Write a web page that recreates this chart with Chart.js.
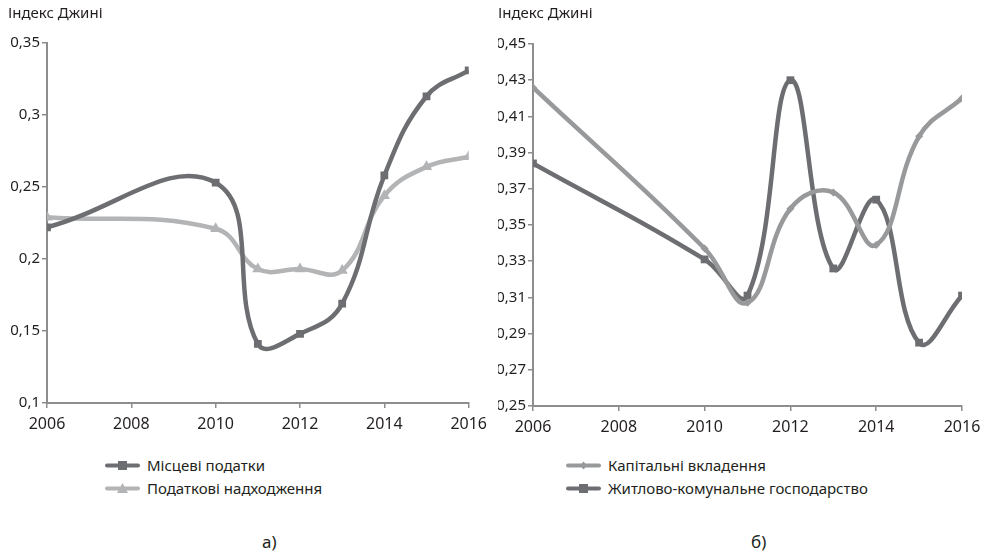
<!DOCTYPE html>
<html>
<head>
<meta charset="utf-8">
<script src="https://cdn.jsdelivr.net/npm/chart.js@4.4.1/dist/chart.umd.min.js"></script>
<style>
    body { margin: 0; background: #fff; font-family: "Noto Sans", sans-serif; color: #231f20; }
    #page { position: relative; width: 988px; height: 558px; overflow: hidden; }
    .box { position: absolute; top: 0; width: 494px; }
    .legend { position: absolute; font-size: 15px; line-height: 23px; }
    .legend div { display: flex; align-items: center; white-space: nowrap; }
    .legend svg { margin-right: 6px; }
    .caption { position: absolute; top: 530px; font-size: 17px; }
</style>
</head>
<body>
<div id="page">
    <div class="box" style="left:0;height:443px"><canvas id="chartA"></canvas></div>
    <div class="box" style="left:494px;height:446px"><canvas id="chartB"></canvas></div>
    <div class="legend" id="legendA" style="left:105px;top:454px"></div>
    <div class="legend" id="legendB" style="left:566px;top:454px"></div>
    <div class="caption" style="left:262px">а)</div>
    <div class="caption" style="left:751px">б)</div>
</div>
<script>
const years = [2006, 2010, 2011, 2012, 2013, 2014, 2015, 2016];
const xTicks = [2006, 2008, 2010, 2012, 2014, 2016];

// а) місцеві податки / податкові надходження
const localTaxes = [0.222, 0.253, 0.141, 0.148, 0.169, 0.258, 0.313, 0.331];
const taxRevenue = [0.229, 0.221, 0.193, 0.193, 0.192, 0.244, 0.264, 0.271];
const yTicksA = [0.1, 0.15, 0.2, 0.25, 0.3, 0.35];

// б) капітальні вкладення / житлово-комунальне господарство
const capitalInvest = [0.426, 0.337, 0.307, 0.359, 0.368, 0.339, 0.399, 0.420];
const housing = [0.384, 0.331, 0.311, 0.430, 0.326, 0.364, 0.285, 0.311];
const yTicksB = [0.25, 0.27, 0.29, 0.31, 0.33, 0.35, 0.37, 0.39, 0.41, 0.43, 0.45];

const yLabel = "Індекс Джині";
const FONT = "'Noto Sans', sans-serif";
const axisColor = "#8d8d8f";
const dark = "#6d6e71";
const light = "#b3b4b6";
const mid = "#98999b";

function toPoints(values) {
    return years.map((y, i) => ({ x: y, y: values[i] }));
}

function comma(v) {
    return String(Number(v.toFixed(2))).replace(".", ",");
}

function series(label, values, color, style, radius) {
    return {
        label,
        data: toPoints(values),
        borderColor: color,
        backgroundColor: color,
        borderWidth: 4.5,
        tension: 0.42,
        pointStyle: style,
        pointRadius: radius,
        pointBorderWidth: 0,
        pointHoverRadius: radius
    };
}

function makeChart(id, datasets, yTicks, opts) {
    return new Chart(document.getElementById(id), {
        type: "line",
        data: { datasets },
        options: {
            responsive: true,
            maintainAspectRatio: false,
            animation: false,
            layout: { padding: { left: opts.padLeft, right: opts.padRight, top: 0, bottom: 0 } },
            plugins: {
                legend: { display: false },
                tooltip: { enabled: false },
                title: {
                    display: true,
                    text: yLabel,
                    align: "start",
                    color: "#231f20",
                    font: { family: FONT, size: 15, weight: "normal", lineHeight: 1.2 },
                    padding: { top: 5, bottom: opts.titleBottom }
                }
            },
            scales: {
                x: {
                    type: "linear",
                    min: 2006,
                    max: 2016,
                    afterBuildTicks: s => { s.ticks = xTicks.map(v => ({ value: v })); },
                    afterFit: s => { s.height = opts.xHeight; },
                    grid: { drawOnChartArea: false, color: axisColor, lineWidth: 1.5, tickLength: 5 },
                    border: { color: axisColor, width: 2 },
                    ticks: { color: "#231f20", padding: 7, maxRotation: 0, font: { family: FONT, size: 16 }, callback: v => String(v) }
                },
                y: {
                    min: yTicks[0],
                    max: yTicks[yTicks.length - 1],
                    afterBuildTicks: s => { s.ticks = yTicks.map(v => ({ value: v })); },
                    afterFit: s => { s.width = opts.yWidth; },
                    grid: { drawOnChartArea: false, color: axisColor, lineWidth: 1.5, tickLength: 5 },
                    border: { color: axisColor, width: 2 },
                    ticks: { color: "#231f20", padding: 2, font: { family: FONT, size: 15 }, callback: v => comma(v) }
                }
            }
        }
    });
}

makeChart("chartA", [
    series("Місцеві податки", localTaxes, dark, "rect", 5.5),
    series("Податкові надходження", taxRevenue, light, "triangle", 6.5)
], yTicksA, { padLeft: 8, padRight: 22, yWidth: 39, xHeight: 40, titleBottom: 20 });

makeChart("chartB", [
    series("Капітальні вкладення", capitalInvest, mid, "rectRot", 4),
    series("Житлово-комунальне господарство", housing, dark, "rect", 5.5)
], yTicksB, { padLeft: 4, padRight: 26, yWidth: 35, xHeight: 40, titleBottom: 21 });

// legends drawn as html, line with marker in the middle
function icon(color, shape) {
    let m = "";
    if (shape === "rect") m = `<rect x="13" y="1" width="9" height="9" fill="${color}"/>`;
    if (shape === "triangle") m = `<polygon points="17.5,0 23,10 12,10" fill="${color}"/>`;
    if (shape === "rectRot") m = `<polygon points="17.5,1.5 21,5.5 17.5,9.5 14,5.5" fill="${color}"/>`;
    return `<svg width="36" height="11"><line x1="2" y1="5.5" x2="33" y2="5.5" stroke="${color}" stroke-width="4" stroke-linecap="round"/>${m}</svg>`;
}

function fillLegend(id, items) {
    document.getElementById(id).innerHTML = items
        .map(it => `<div>${icon(it[1], it[2])}<span>${it[0]}</span></div>`)
        .join("");
}

fillLegend("legendA", [["Місцеві податки", dark, "rect"], ["Податкові надходження", light, "triangle"]]);
fillLegend("legendB", [["Капітальні вкладення", mid, "rectRot"], ["Житлово-комунальне господарство", dark, "rect"]]);
</script>
</body>
</html>
